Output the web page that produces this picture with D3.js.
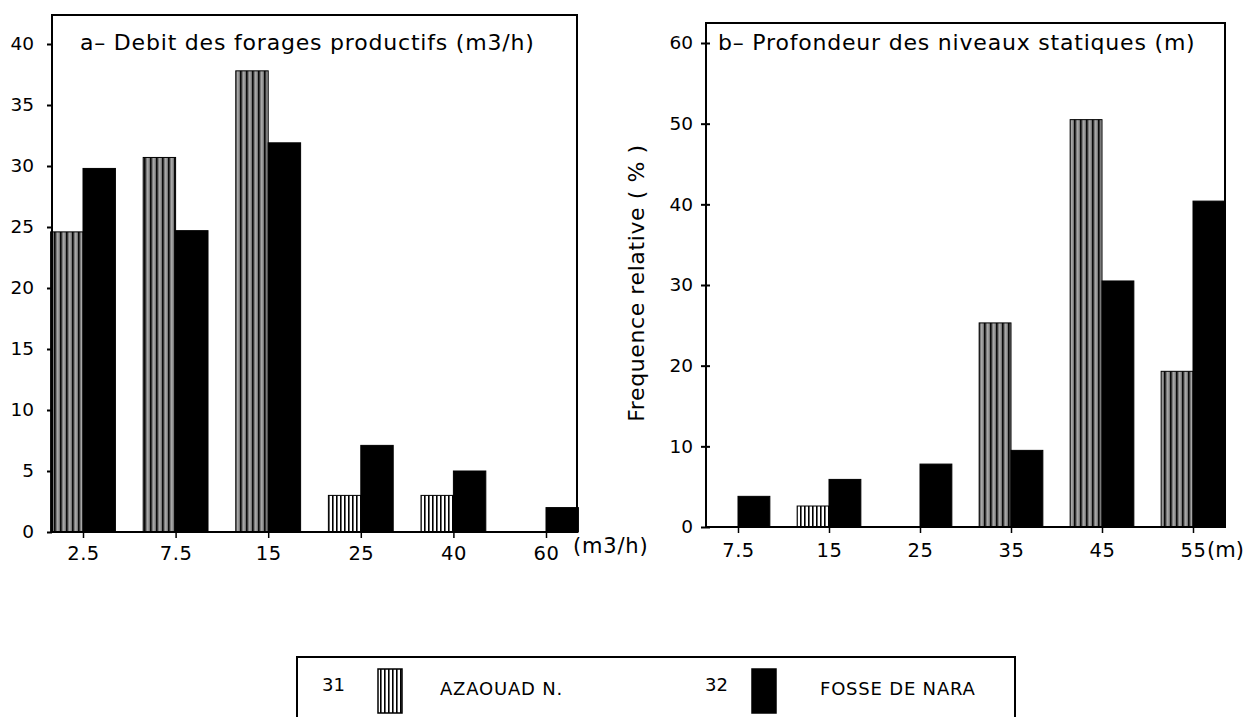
<!DOCTYPE html>
<html>
<head>
<meta charset="utf-8">
<script src="https://cdn.jsdelivr.net/npm/d3@7/dist/d3.min.js"></script>
<style>
  html, body { margin: 0; padding: 0; background: #fff; }
  svg { display: block; }
  text { font-family: "DejaVu Sans", sans-serif; fill: #000; }
</style>
</head>
<body>
<svg id="chart" width="1245" height="717"></svg>
<script>
// ---- Data ----
const catsA = ["2.5", "7.5", "15", "25", "40", "60"];
const azaouadA = [24.6, 30.7, 37.8, 3.0, 3.0, 0];
const fosseA = [29.8, 24.7, 31.9, 7.1, 5.0, 2.0];
const yTicksA = [0, 5, 10, 15, 20, 25, 30, 35, 40];
const titleA = "a\u2013 Debit des forages productifs (m3/h)";
const unitA = "(m3/h)";

const catsB = ["7.5", "15", "25", "35", "45", "55"];
const azaouadB = [0, 2.6, 0, 25.3, 50.5, 19.3];
const fosseB = [3.8, 5.9, 7.8, 9.5, 30.5, 40.4];
const yTicksB = [0, 10, 20, 30, 40, 50, 60];
const titleB = "b\u2013 Profondeur des niveaux statiques (m)";
const unitB = "(m)";
const yLabelB = "Frequence relative ( % )";

const seriesCodes = ["31", "32"];
const seriesNames = ["AZAOUAD N.", "FOSSE DE NARA"];

// ---- Drawing ----
const svg = d3.select("#chart");
const defs = svg.append("defs");
const pat = defs.append("pattern")
  .attr("id", "stripes").attr("patternUnits", "userSpaceOnUse")
  .attr("width", 6).attr("height", 10);
pat.append("rect").attr("width", 6).attr("height", 10).attr("fill", "#7a7a7a");
pat.append("rect").attr("x", 0).attr("width", 1.6).attr("height", 10).attr("fill", "#0a0a0a");
pat.append("rect").attr("x", 3.4).attr("width", 1).attr("height", 10).attr("fill", "#c4c4c4");

const patL = defs.append("pattern")
  .attr("id", "stripesLight").attr("patternUnits", "userSpaceOnUse")
  .attr("width", 4).attr("height", 10);
patL.append("rect").attr("width", 4).attr("height", 10).attr("fill", "#fff");
patL.append("rect").attr("x", 0).attr("width", 1.6).attr("height", 10).attr("fill", "#000");

const fills = ["url(#stripes)", "#000"];

function drawPanel(cfg) {
  const g = svg.append("g");
  const x = d3.scalePoint().domain(cfg.cats).range([cfg.x0 + cfg.inset, cfg.x1 - cfg.inset]);
  const y = d3.scaleLinear().domain([0, d3.max(cfg.yTicks)]).range([cfg.yBase, cfg.yMaxPx]);
  const bw = x.step() * 0.35;

  // bars
  const series = [cfg.az, cfg.fo];
  series.forEach((vals, si) => {
    g.append("g").selectAll("rect")
      .data(cfg.cats.map((c, i) => ({ c, v: vals[i] })).filter(d => d.v > 0))
      .join("rect")
      .attr("x", d => si === 0 ? x(d.c) - bw : x(d.c))
      .attr("width", bw)
      .attr("y", d => y(d.v))
      .attr("height", d => y(0) - y(d.v))
      .attr("fill", d => si === 0 ? (d.v < 5 ? "url(#stripesLight)" : fills[0]) : fills[1])
      .attr("stroke", "#000").attr("stroke-width", 1);
  });

  // frame
  g.append("path")
    .attr("d", `M${cfg.x0},${cfg.yBase} L${cfg.x0},${cfg.yTop} L${cfg.x1},${cfg.yTop} L${cfg.x1},${cfg.yBase} Z`)
    .attr("fill", "none").attr("stroke", "#000").attr("stroke-width", 2);

  // y axis
  const ya = g.append("g").attr("transform", `translate(${cfg.x0},0)`)
    .call(d3.axisLeft(y).tickValues(cfg.yTicks).tickSize(5).tickPadding(cfg.yPad).tickSizeOuter(0));
  ya.select(".domain").remove();
  ya.selectAll(".tick line").attr("stroke-width", 2).attr("x2", -5).attr("x1", cfg.tickCross);
  ya.selectAll(".tick text").attr("font-size", 18.5).attr("font-family", "DejaVu Sans");

  // x axis
  const xa = g.append("g").attr("transform", `translate(0,${cfg.yBase})`)
    .call(d3.axisBottom(x).tickSize(6).tickPadding(cfg.xPad));
  xa.select(".domain").remove();
  xa.selectAll(".tick line").attr("stroke-width", 1.5);
  xa.selectAll(".tick text").attr("font-size", 19.5).attr("font-family", "DejaVu Sans")
    .attr("letter-spacing", 0.5);

  // unit label
  g.append("text").attr("x", cfg.unitX).attr("y", cfg.unitY)
    .attr("font-size", cfg.unitSize).attr("letter-spacing", cfg.unitLs).text(cfg.unit);

  // title
  g.append("text").attr("x", cfg.x0 + cfg.titleDx).attr("y", 50)
    .attr("font-size", 22).attr("letter-spacing", 0.8).text(cfg.title);
  return { x, y };
}

drawPanel({
  cats: catsA, az: azaouadA, fo: fosseA, yTicks: yTicksA,
  x0: 52, x1: 577, inset: 31, yTop: 15, yBase: 532, yMaxPx: 44,
  yPad: 13, xPad: 8, tickCross: 0,
  unit: unitA, unitX: 573, unitY: 553, unitSize: 21, unitLs: 0.8,
  title: titleA, titleDx: 28
});

drawPanel({
  cats: catsB, az: azaouadB, fo: fosseB, yTicks: yTicksB,
  x0: 706, x1: 1225, inset: 32, yTop: 23, yBase: 527, yMaxPx: 43,
  yPad: 8, xPad: 10, tickCross: 4,
  unit: unitB, unitX: 1207, unitY: 557, unitSize: 21, unitLs: 0,
  title: titleB, titleDx: 12
});

// y label for panel b
svg.append("text")
  .attr("transform", "translate(644,283) rotate(-90)")
  .attr("text-anchor", "middle")
  .attr("font-size", 22)
  .attr("letter-spacing", 0.6)
  .text(yLabelB);

// legend
const lg = svg.append("g");
lg.append("path").attr("d", "M297,720 L297,657 L1015,657 L1015,720")
  .attr("fill", "none").attr("stroke", "#000").attr("stroke-width", 2);
const legX = [[322, 378, 440], [705, 752, 820]];
seriesNames.forEach((name, i) => {
  const [cx, sx, tx] = legX[i];
  lg.append("text").attr("x", cx).attr("y", 691).attr("font-size", 18).text(seriesCodes[i]);
  lg.append("rect").attr("x", sx).attr("y", 669).attr("width", 24).attr("height", 44)
    .attr("fill", i === 0 ? "url(#stripesLight)" : "#000").attr("stroke", "#000").attr("stroke-width", 1.5);
  lg.append("text").attr("x", tx).attr("y", 695).attr("font-size", 18)
    .attr("letter-spacing", 0.8).text(name);
});
</script>
</body>
</html>
